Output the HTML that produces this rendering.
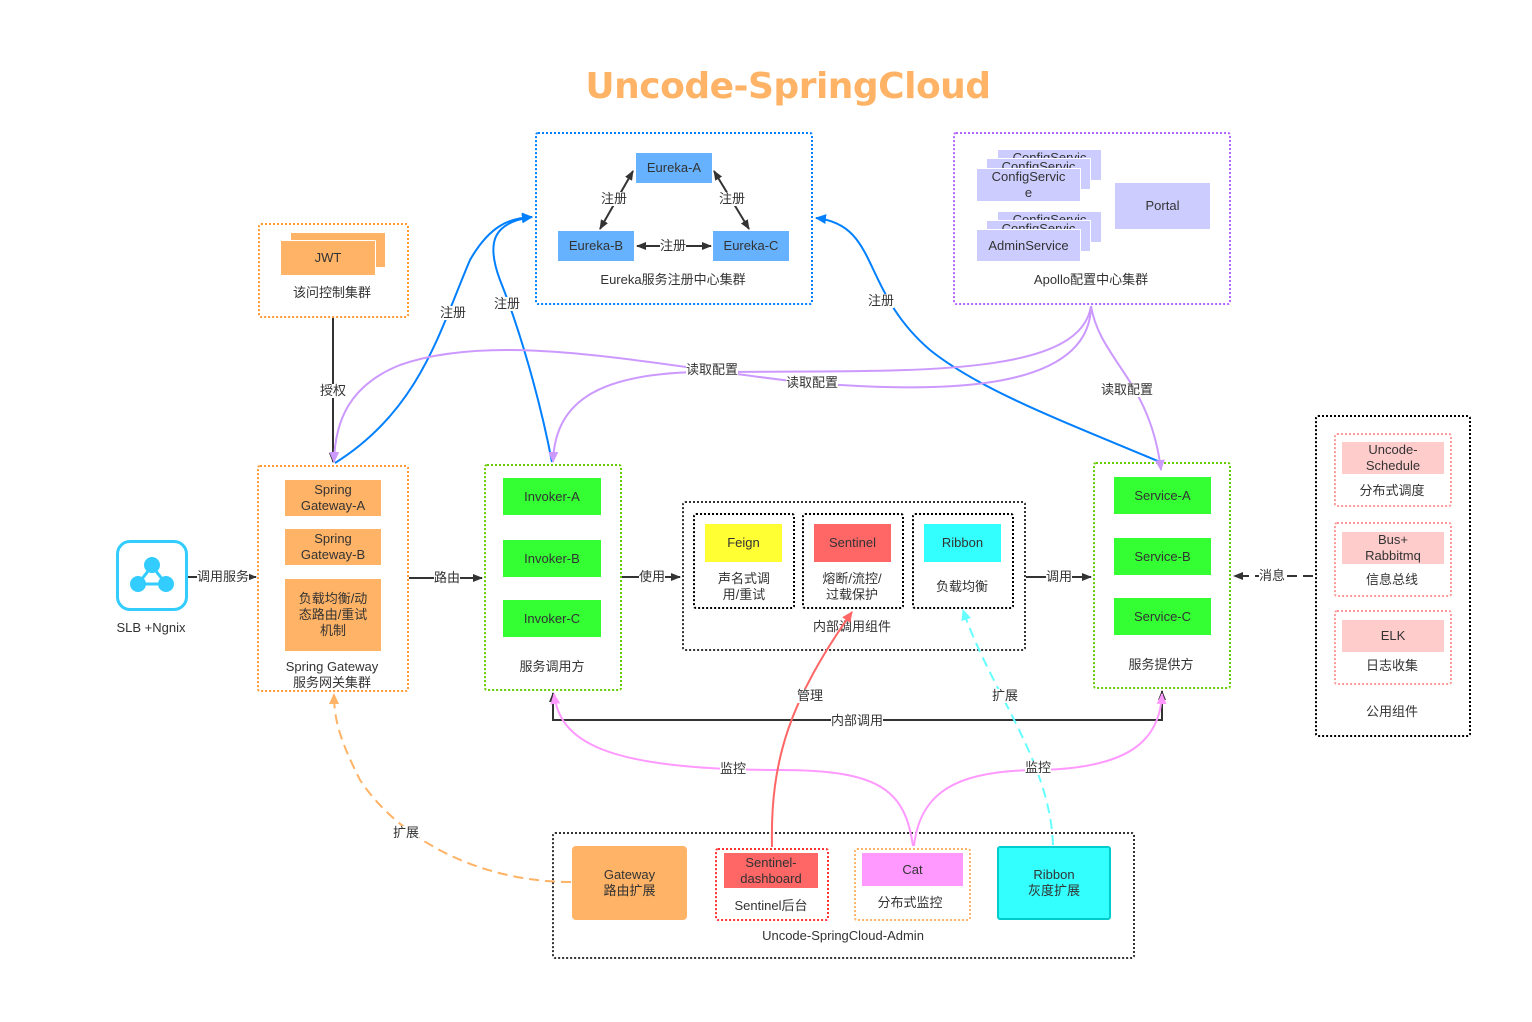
<!DOCTYPE html>
<html><head><meta charset="utf-8"><style>
body{margin:0;width:1532px;height:1022px;background:#fff;position:relative;overflow:hidden;font-family:"Liberation Sans","Noto Sans CJK SC",sans-serif;font-size:13px;color:#333}
.b{position:absolute;display:flex;align-items:center;justify-content:center;text-align:center;line-height:16px;box-sizing:border-box}
.t{position:absolute;text-align:center;line-height:16px;white-space:nowrap;transform:translateX(-50%)}
.d{position:absolute;box-sizing:border-box;border-radius:3px}
svg{position:absolute;left:0;top:0}
.lb{position:absolute;background:#fff;line-height:14px;font-size:13px;transform:translate(-50%,-50%);white-space:nowrap}
</style></head><body>
<div class="t" style="left:788px;top:65px;font-size:36px;line-height:44px;font-weight:bold;color:#FFB366;font-family:'DejaVu Sans','Liberation Sans',sans-serif;letter-spacing:-0.5px">Uncode-SpringCloud</div>

<!-- Eureka -->
<div class="d" style="left:535px;top:132px;width:278px;height:173px;border:2px dotted #007FFF"></div>
<div class="b" style="left:636px;top:153px;width:76px;height:30px;background:#66B2FF">Eureka-A</div>
<div class="b" style="left:558px;top:231px;width:76px;height:30px;background:#66B2FF">Eureka-B</div>
<div class="b" style="left:713px;top:231px;width:76px;height:30px;background:#66B2FF">Eureka-C</div>
<div class="t" style="left:673px;top:272px">Eureka服务注册中心集群</div>

<!-- Apollo -->
<div class="d" style="left:953px;top:132px;width:278px;height:173px;border:2px dotted #B266FF"></div>
<div class="b" style="left:997px;top:149px;width:105px;height:32px;background:#CCCCFF;border:1px solid #fff;align-items:flex-start;overflow:hidden">ConfigServic</div>
<div class="b" style="left:986px;top:158px;width:105px;height:32px;background:#CCCCFF;border:1px solid #fff;align-items:flex-start;overflow:hidden">ConfigServic</div>
<div class="b" style="left:976px;top:168px;width:105px;height:34px;background:#CCCCFF;border:1px solid #fff">ConfigServic<br>e</div>
<div class="b" style="left:997px;top:211px;width:105px;height:32px;background:#CCCCFF;border:1px solid #fff;align-items:flex-start;overflow:hidden">ConfigServic</div>
<div class="b" style="left:986px;top:220px;width:105px;height:32px;background:#CCCCFF;border:1px solid #fff;align-items:flex-start;overflow:hidden">ConfigServic</div>
<div class="b" style="left:976px;top:229px;width:105px;height:33px;background:#CCCCFF;border:1px solid #fff">AdminService</div>
<div class="b" style="left:1115px;top:183px;width:95px;height:46px;background:#CCCCFF">Portal</div>
<div class="t" style="left:1091px;top:272px">Apollo配置中心集群</div>

<!-- JWT -->
<div class="d" style="left:258px;top:223px;width:151px;height:95px;border:2px dotted #FF9933"></div>
<div class="b" style="left:290px;top:232px;width:96px;height:36px;background:#FFB366;border:1px solid #fff"></div>
<div class="b" style="left:280px;top:240px;width:96px;height:36px;background:#FFB366;border:1px solid #fff">JWT</div>
<div class="t" style="left:332px;top:285px">该问控制集群</div>

<!-- Gateway -->
<div class="d" style="left:257px;top:465px;width:152px;height:227px;border:2px dotted #FF9933"></div>
<div class="b" style="left:285px;top:480px;width:96px;height:36px;background:#FFB366">Spring<br>Gateway-A</div>
<div class="b" style="left:285px;top:529px;width:96px;height:36px;background:#FFB366">Spring<br>Gateway-B</div>
<div class="b" style="left:285px;top:579px;width:96px;height:72px;background:#FFB366">负载均衡/动<br>态路由/重试<br>机制</div>
<div class="t" style="left:332px;top:659px">Spring Gateway<br>服务网关集群</div>

<!-- SLB -->
<div class="d" style="left:116px;top:540px;width:72px;height:71px;border:3px solid #33CCFF;border-radius:14px"></div>
<svg width="1532" height="1022" style="pointer-events:none">
<line x1="152" y1="566" x2="138" y2="584" stroke="#33CCFF" stroke-width="3"/><line x1="152" y1="566" x2="166" y2="584" stroke="#33CCFF" stroke-width="3"/><line x1="138" y1="584" x2="166" y2="584" stroke="#33CCFF" stroke-width="3"/>
<circle cx="152" cy="565" r="8" fill="#33CCFF"/><circle cx="138" cy="584" r="8" fill="#33CCFF"/><circle cx="166" cy="584" r="8" fill="#33CCFF"/>
</svg>
<div class="t" style="left:151px;top:620px">SLB +Ngnix</div>

<!-- Invoker -->
<div class="d" style="left:484px;top:464px;width:138px;height:227px;border:2px dotted #66CC00"></div>
<div class="b" style="left:503px;top:478px;width:98px;height:37px;background:#33FF33">Invoker-A</div>
<div class="b" style="left:503px;top:540px;width:98px;height:37px;background:#33FF33">Invoker-B</div>
<div class="b" style="left:503px;top:600px;width:98px;height:37px;background:#33FF33">Invoker-C</div>
<div class="t" style="left:552px;top:659px">服务调用方</div>

<!-- Internal -->
<div class="d" style="left:682px;top:501px;width:344px;height:150px;border:2px dotted #333"></div>
<div class="d" style="left:693px;top:513px;width:102px;height:96px;border:2px dotted #000"></div>
<div class="d" style="left:802px;top:513px;width:102px;height:96px;border:2px dotted #000"></div>
<div class="d" style="left:912px;top:513px;width:102px;height:96px;border:2px dotted #000"></div>
<div class="b" style="left:705px;top:524px;width:77px;height:38px;background:#FFFF33">Feign</div>
<div class="b" style="left:814px;top:524px;width:77px;height:38px;background:#FF6666">Sentinel</div>
<div class="b" style="left:924px;top:524px;width:77px;height:38px;background:#33FFFF">Ribbon</div>
<div class="t" style="left:744px;top:571px">声名式调<br>用/重试</div>
<div class="t" style="left:852px;top:571px">熔断/流控/<br>过载保护</div>
<div class="t" style="left:962px;top:579px">负载均衡</div>
<div class="t" style="left:852px;top:619px">内部调用组件</div>

<!-- Service -->
<div class="d" style="left:1093px;top:462px;width:138px;height:227px;border:2px dotted #66CC00"></div>
<div class="b" style="left:1114px;top:477px;width:97px;height:37px;background:#33FF33">Service-A</div>
<div class="b" style="left:1114px;top:538px;width:97px;height:37px;background:#33FF33">Service-B</div>
<div class="b" style="left:1114px;top:598px;width:97px;height:37px;background:#33FF33">Service-C</div>
<div class="t" style="left:1161px;top:657px">服务提供方</div>

<!-- Public -->
<div class="d" style="left:1315px;top:415px;width:156px;height:322px;border:2px dotted #000"></div>
<div class="d" style="left:1334px;top:433px;width:118px;height:74px;border:2px dotted #FF9999"></div>
<div class="d" style="left:1334px;top:522px;width:118px;height:75px;border:2px dotted #FF9999"></div>
<div class="d" style="left:1334px;top:610px;width:118px;height:75px;border:2px dotted #FF9999"></div>
<div class="b" style="left:1342px;top:442px;width:102px;height:32px;background:#FFCCCC">Uncode-<br>Schedule</div>
<div class="b" style="left:1342px;top:532px;width:102px;height:32px;background:#FFCCCC">Bus+<br>Rabbitmq</div>
<div class="b" style="left:1342px;top:620px;width:102px;height:32px;background:#FFCCCC">ELK</div>
<div class="t" style="left:1392px;top:483px">分布式调度</div>
<div class="t" style="left:1392px;top:572px">信息总线</div>
<div class="t" style="left:1392px;top:658px">日志收集</div>
<div class="t" style="left:1392px;top:704px">公用组件</div>

<!-- Admin -->
<div class="d" style="left:552px;top:832px;width:583px;height:127px;border:2px dotted #333"></div>
<div class="b" style="left:572px;top:846px;width:115px;height:74px;background:#FFB366;border-radius:4px">Gateway<br>路由扩展</div>
<div class="d" style="left:715px;top:848px;width:114px;height:73px;border:2px dotted #FF3333"></div>
<div class="b" style="left:724px;top:853px;width:94px;height:35px;background:#FF6666">Sentinel-<br>dashboard</div>
<div class="t" style="left:771px;top:898px">Sentinel后台</div>
<div class="d" style="left:854px;top:848px;width:117px;height:73px;border:2px dotted #FFB366"></div>
<div class="b" style="left:862px;top:853px;width:101px;height:33px;background:#FF99FF">Cat</div>
<div class="t" style="left:910px;top:895px">分布式监控</div>
<div class="b" style="left:997px;top:846px;width:114px;height:74px;background:#33FFFF;border:2px solid #00CCCC;border-radius:3px">Ribbon<br>灰度扩展</div>
<div class="t" style="left:843px;top:928px">Uncode-SpringCloud-Admin</div>

<svg width="1532" height="1022">
<defs>
<marker id="ab" markerWidth="10" markerHeight="10" refX="9" refY="5" orient="auto-start-reverse" markerUnits="userSpaceOnUse"><path d="M0,1 L10,5 L0,9 Z" fill="#333"/></marker>
<marker id="ablue" markerWidth="12" markerHeight="12" refX="10" refY="6" orient="auto" markerUnits="userSpaceOnUse"><path d="M0,1 L11,6 L0,11 Z" fill="#007FFF"/></marker>
<marker id="ap" markerWidth="12" markerHeight="12" refX="10" refY="6" orient="auto" markerUnits="userSpaceOnUse"><path d="M0,1 L11,6 L0,11 Z" fill="#CC99FF"/></marker>
<marker id="apk" markerWidth="12" markerHeight="12" refX="10" refY="6" orient="auto" markerUnits="userSpaceOnUse"><path d="M0,1 L11,6 L0,11 Z" fill="#FF99FF"/></marker>
<marker id="ar" markerWidth="12" markerHeight="12" refX="10" refY="6" orient="auto" markerUnits="userSpaceOnUse"><path d="M0,1 L11,6 L0,11 Z" fill="#FF6666"/></marker>
<marker id="ac" markerWidth="12" markerHeight="12" refX="10" refY="6" orient="auto" markerUnits="userSpaceOnUse"><path d="M0,1 L11,6 L0,11 Z" fill="#66FFFF"/></marker>
<marker id="ao" markerWidth="12" markerHeight="12" refX="10" refY="6" orient="auto" markerUnits="userSpaceOnUse"><path d="M0,1 L11,6 L0,11 Z" fill="#FFB366"/></marker>
</defs>
<g fill="none" stroke-width="2">
<path d="M600,229 L633,171" stroke="#333" marker-start="url(#ab)" marker-end="url(#ab)"/>
<path d="M749,229 L714,171" stroke="#333" marker-start="url(#ab)" marker-end="url(#ab)"/>
<path d="M711,246 L637,246" stroke="#333" marker-end="url(#ab)" marker-start="url(#ab)"/>
<path d="M333,318 L333,462" stroke="#333" marker-end="url(#ab)"/>
<path d="M188,577 L256,577" stroke="#333" marker-end="url(#ab)"/>
<path d="M409,578 L482,578" stroke="#333" marker-end="url(#ab)"/>
<path d="M622,577 L680,577" stroke="#333" marker-end="url(#ab)"/>
<path d="M1026,577 L1091,577" stroke="#333" marker-end="url(#ab)"/>
<path d="M1313,576 L1234,576" stroke="#333" stroke-dasharray="10,6" marker-end="url(#ab)"/>
<path d="M553,693 L553,720 L1162,720 L1162,691" stroke="#333" marker-start="url(#ab)" marker-end="url(#ab)"/>
<path d="M335,463 C420,410 440,330 470,260 C490,225 510,218 532,217" stroke="#007FFF" marker-end="url(#ablue)"/>
<path d="M552,462 C540,400 520,330 500,280 C485,240 495,222 532,217" stroke="#007FFF" marker-end="url(#ablue)"/>
<path d="M1160,462 C1060,420 980,390 930,350 C860,290 880,225 816,218" stroke="#007FFF" marker-end="url(#ablue)"/>
<path d="M1091,306 C1090,390 950,395 800,382 C650,365 500,330 400,365 C350,385 335,420 334,462" stroke="#CC99FF" marker-end="url(#ap)"/>
<path d="M1091,306 C1080,380 900,370 720,372 C600,370 555,400 553,462" stroke="#CC99FF" marker-end="url(#ap)"/>
<path d="M1091,306 C1100,360 1150,380 1161,470" stroke="#CC99FF" marker-end="url(#ap)"/>
<path d="M913,846 C905,790 880,770 780,770 C600,770 560,740 554,694" stroke="#FF99FF" marker-end="url(#apk)"/>
<path d="M914,846 C920,790 960,770 1040,770 C1130,768 1160,740 1162,694" stroke="#FF99FF" marker-end="url(#apk)"/>
<path d="M772,847 C770,760 790,700 852,612" stroke="#FF6666" marker-end="url(#ar)"/>
<path d="M1053,845 C1050,760 990,690 963,610" stroke="#66FFFF" stroke-dasharray="10,6" marker-end="url(#ac)"/>
<path d="M571,882 C480,882 400,840 360,780 C340,740 334,720 334,694" stroke="#FFB366" stroke-dasharray="10,6" marker-end="url(#ao)"/>
</g>
</svg>
<div class="lb" style="left:614px;top:199px">注册</div>
<div class="lb" style="left:732px;top:199px">注册</div>
<div class="lb" style="left:673px;top:246px">注册</div>
<div class="lb" style="left:453px;top:313px">注册</div>
<div class="lb" style="left:507px;top:304px">注册</div>
<div class="lb" style="left:881px;top:301px">注册</div>
<div class="lb" style="left:333px;top:391px">授权</div>
<div class="lb" style="left:712px;top:370px">读取配置</div>
<div class="lb" style="left:812px;top:383px">读取配置</div>
<div class="lb" style="left:1127px;top:390px">读取配置</div>
<div class="lb" style="left:223px;top:577px">调用服务</div>
<div class="lb" style="left:447px;top:578px">路由</div>
<div class="lb" style="left:652px;top:577px">使用</div>
<div class="lb" style="left:1059px;top:577px">调用</div>
<div class="lb" style="left:1272px;top:576px">消息</div>
<div class="lb" style="left:857px;top:721px">内部调用</div>
<div class="lb" style="left:810px;top:696px">管理</div>
<div class="lb" style="left:1005px;top:696px">扩展</div>
<div class="lb" style="left:733px;top:769px">监控</div>
<div class="lb" style="left:1038px;top:768px">监控</div>
<div class="lb" style="left:406px;top:833px">扩展</div>
</body></html>
